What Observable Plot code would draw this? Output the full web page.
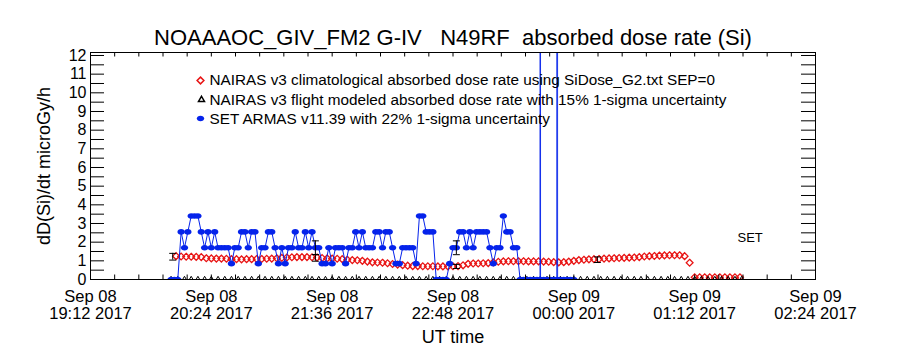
<!DOCTYPE html>
<html><head><meta charset="utf-8">
<script src="https://cdn.jsdelivr.net/npm/d3@7"></script>
<script src="https://cdn.jsdelivr.net/npm/@observablehq/plot@0.6"></script>
<style>body{margin:0;background:#fff;} svg text{white-space:pre;}</style>
</head><body><div id="chart"></div>
<script>
// ---------- data ----------
const titleText = "NOAAAOC_GIV_FM2 G-IV\u00a0\u00a0\u00a0N49RF\u00a0\u00a0absorbed dose rate (Si)";
const yTitle = "dD(Si)/dt microGy/h";
const xTitle = "UT time";
const legendLabels = [
  "NAIRAS v3 climatological absorbed dose rate using SiDose_G2.txt SEP=0",
  "NAIRAS v3 flight modeled absorbed dose rate with 15% 1-sigma uncertainty",
  "SET ARMAS v11.39 with 22% 1-sigma uncertainty"
];
const setLabel = "SET";

const xDomain = ["2017-09-08T19:12:00Z", "2017-09-09T02:24:00Z"];
const xTickDates = ["2017-09-08T19:12:00Z","2017-09-08T20:24:00Z","2017-09-08T21:36:00Z","2017-09-08T22:48:00Z","2017-09-09T00:00:00Z","2017-09-09T01:12:00Z","2017-09-09T02:24:00Z"];
const xTickLabels = ["Sep 08\n19:12 2017","Sep 08\n20:24 2017","Sep 08\n21:36 2017","Sep 08\n22:48 2017","Sep 09\n00:00 2017","Sep 09\n01:12 2017","Sep 09\n02:24 2017"];
const yTickLabels = [0,1,2,3,4,5,6,7,8,9,10,11,12];

// NAIRAS climatological (red diamonds), regular 3-minute samples
const redStart = "2017-09-08T20:03:00Z";
const redStepMin = 3;
const redValues = [
  1.25,1.23,1.22,1.22,1.21,1.20,1.14,1.13,1.12,1.12,
  1.11,1.09,1.09,1.08,1.09,1.09,1.10,1.10,1.11,1.12,
  1.14,1.16,1.18,1.19,1.20,1.20,1.20,1.19,1.18,1.15,
  1.13,1.12,1.11,1.09,1.06,1.04,1.03,1.00,0.96,0.92,
  0.91,0.90,0.87,0.83,0.80,0.77,0.74,0.72,0.72,0.71,
  0.71,0.71,0.70,0.70,0.70,0.71,0.72,0.76,0.84,0.86,
  0.86,0.87,0.88,0.92,0.95,0.97,0.98,0.98,0.98,0.98,
  0.97,0.97,0.97,0.96,0.95,0.93,0.92,0.93,0.96,1.00,
  1.04,1.06,1.08,1.09,1.10,1.12,1.13,1.14,1.15,1.16,
  1.17,1.18,1.20,1.23,1.25,1.26,1.28,1.29,1.30,1.30,
  1.30,1.25,0.90,0.12,0.12,0.12,0.12,0.12,0.12,0.12,
  0.12,0.12,0.12
];

// NAIRAS flight modeled (black triangles), regular 4-minute samples
const flightStart = "2017-09-08T20:00:00Z";
const flightStepMin = 4;
const flightValues = [
  0,0,0,0,0,0,0,0,0,0, 0,0,0,0,0,0,0,0,0,0,
  0,0,0,0,0,0,0,0,0,0, 0,0,0,0,0,0,0,0,0,0,
  0,0,0,0,0,0,0,0,0,0, 0,0,0,0,0,0,0,0,0,0,
  0,0,0,0,0,0,0,0,0,0, 0,0,0,0,0,0,0,0,0,0,
  0,0,0,0,0,0
];

// SET ARMAS (blue), regular 2-minute samples
const setStart = "2017-09-08T20:00:00Z";
const setStepMin = 2;
const setValues = [
  0,0,0,2.55,1.7,2.55,3.4,3.4,3.4,2.55,
  1.7,2.55,1.7,2.55,1.7,1.7,1.7,1.7,0.85,1.7,
  1.7,2.55,2.55,1.7,2.55,2.55,0.85,1.7,1.7,2.55,
  2.55,1.7,0.85,1.7,0.85,1.7,1.7,2.55,1.7,1.7,
  2.55,1.7,2.55,1.7,1.7,0.85,0.85,1.7,0.85,1.7,
  1.7,1.7,0.85,1.7,1.7,2.55,1.7,2.55,1.7,1.7,
  1.7,2.55,2.55,1.7,2.55,2.55,1.7,0.85,0.85,1.7,
  1.7,1.7,1.7,0.85,3.4,3.4,2.55,2.55,2.55,0,
  0,0,0,0.85,1.7,1.7,2.55,2.55,1.7,2.55,
  1.7,2.55,2.55,2.55,2.55,1.7,0.85,1.7,1.7,3.4,
  2.55,2.55,1.7,1.7,0,0,0,0,0,0,
  0,0,0,0,0,0,0,0,0,0,0
];
// SET off-scale spikes
const spikeTimes = ["2017-09-08T23:39:50Z","2017-09-08T23:40:00Z","2017-09-08T23:40:10Z","2017-09-08T23:49:50Z","2017-09-08T23:50:00Z","2017-09-08T23:50:20Z"];
const spikeValues = [0, 200, 0, 0, 200, 0];

// error bars
const errTimes = ["2017-09-08T20:01:00Z","2017-09-08T21:26:00Z","2017-09-08T21:26:00Z","2017-09-08T22:50:00Z","2017-09-08T22:50:00Z","2017-09-09T00:14:00Z"];
const errCenters = [1.22, 1.16, 1.70, 0.70, 1.70, 1.06];
const errSigmas = [0.18, 0.18, 0.37, 0.11, 0.37, 0.15];

// ---------- build ----------
const RED = "rgb(232,20,20)", BLUE = "rgb(5,35,235)";
const at = (start, step, i) => new Date(+new Date(start) + i * step * 60000);
const red = redValues.map((v, i) => ({t: at(redStart, redStepMin, i), v}));
const flight = flightValues.map((v, i) => ({t: at(flightStart, flightStepMin, i), v}));
const set = setValues.map((v, i) => ({t: at(setStart, setStepMin, i), v}));
const spikes = spikeTimes.map((s, i) => ({t: new Date(s), v: spikeValues[i]}));
const errs = errTimes.map((s, i) => ({t: new Date(s), lo: errCenters[i] - errSigmas[i], hi: errCenters[i] + errSigmas[i]}));
const caps = errs.flatMap(d => [{t: d.t, v: d.lo}, {t: d.t, v: d.hi}]);

const x0 = new Date(xDomain[0]), x1 = new Date(xDomain[1]);
const minorTicks = d3.range(0, 31).map(i => new Date(+x0 + i * 14.4 * 60000));
const yTicks = d3.range(0, 25).map(i => i * 0.5);

const diamond = {draw(c){ const r = 3.4; c.moveTo(0,-r); c.lineTo(r,0); c.lineTo(0,r); c.lineTo(-r,0); c.closePath(); }};
const tri = {draw(c){ c.moveTo(0,-3.2); c.lineTo(3,2); c.lineTo(-3,2); c.closePath(); }};
const ellipse = {draw(c){ const rx = 3.7, ry = 2.8, k = 0.5523;
  c.moveTo(rx,0); c.bezierCurveTo(rx, ry*k, rx*k, ry, 0, ry); c.bezierCurveTo(-rx*k, ry, -rx, ry*k, -rx, 0);
  c.bezierCurveTo(-rx, -ry*k, -rx*k, -ry, 0, -ry); c.bezierCurveTo(rx*k, -ry, rx, -ry*k, rx, 0); c.closePath(); }};
const cap = {draw(c){ c.moveTo(-3.5,0); c.lineTo(3.5,0); }};

const W = 900, H = 350, mL = 90, mR = 85, mT = 52, mB = 71;
const fw = W - mL - mR, fh = H - mT - mB;

const plot = Plot.plot({
  width: W, height: H,
  marginLeft: mL, marginRight: mR, marginTop: mT, marginBottom: mB,
  style: {fontFamily: "'Liberation Sans', Arial, sans-serif", background: "white", color: "black"},
  x: {type: "utc", domain: [x0, x1], axis: null},
  y: {domain: [0, 12.16], axis: null},
  marks: [
    // data
    Plot.dot(red, {x: "t", y: "v", symbol: diamond, stroke: RED, fill: "none", strokeWidth: 1.3, clip: true}),
    Plot.dot(flight, {x: "t", y: "v", symbol: tri, stroke: "black", fill: "none", strokeWidth: 1, clip: true}),
    Plot.line(set, {x: "t", y: "v", stroke: BLUE, strokeWidth: 1, clip: true}),
    Plot.line(spikes, {x: "t", y: "v", stroke: BLUE, strokeWidth: 0.9, clip: true}),
    Plot.dot(set, {x: "t", y: "v", symbol: ellipse, fill: BLUE, stroke: "none", clip: true}),
    Plot.ruleX(errs, {x: "t", y1: "lo", y2: "hi", stroke: "black", strokeWidth: 1}),
    Plot.dot(caps, {x: "t", y: "v", symbol: cap, stroke: "black", strokeWidth: 1}),
    // frame & ticks
    Plot.frame({stroke: "black"}),
    Plot.ruleY(yTicks, {insetRight: fw - 14, stroke: "black"}),
    Plot.ruleY(yTicks, {insetLeft: fw - 14, stroke: "black"}),
    Plot.ruleX(minorTicks, {insetTop: fh - 4.5, stroke: "black"}),
    Plot.ruleX(minorTicks, {insetBottom: fh - 4.5, stroke: "black"}),
    // tick labels
    Plot.text(yTickLabels, {y: d => d, text: d => String(d), frameAnchor: "left", textAnchor: "end", lineAnchor: "middle", dx: -4, fontSize: 16, fill: "black"}),
    Plot.text(xTickDates, {x: d => new Date(d), text: (d, i) => xTickLabels[i], frameAnchor: "bottom", textAnchor: "middle", lineAnchor: "top", lineHeight: 1.06, dy: 10, fontSize: 16.5, fill: "black"}),
    // titles
    Plot.text([titleText], {frameAnchor: "top", textAnchor: "middle", lineAnchor: "middle", dy: -15, fontSize: 22, fill: "black"}),
    Plot.text([xTitle], {frameAnchor: "bottom", textAnchor: "middle", lineAnchor: "middle", dy: 58, fontSize: 18, fill: "black"}),
    Plot.text([yTitle], {frameAnchor: "left", textAnchor: "middle", lineAnchor: "middle", rotate: -90, dx: -46, fontSize: 18, fill: "black"}),
    // legend
    Plot.dot([0], {frameAnchor: "top-left", dx: 110, dy: 28, symbol: diamond, stroke: RED, fill: "white", strokeWidth: 1.5}),
    Plot.dot([0], {frameAnchor: "top-left", dx: 111, dy: 47, symbol: tri, stroke: "black", fill: "white", strokeWidth: 1.5}),
    Plot.dot([0], {frameAnchor: "top-left", dx: 110, dy: 66, symbol: ellipse, fill: BLUE}),
    ...legendLabels.map((s, i) => Plot.text([s], {frameAnchor: "top-left", textAnchor: "start", lineAnchor: "middle", dx: 119, dy: 28 + 19.2 * i, fontSize: 15.3, fill: "black"})),
    Plot.text([setLabel], {frameAnchor: "top-left", textAnchor: "start", lineAnchor: "middle", dx: 647, dy: 185, fontSize: 13, fill: "black"})
  ]
});
document.getElementById("chart").appendChild(plot);
</script></body></html>
